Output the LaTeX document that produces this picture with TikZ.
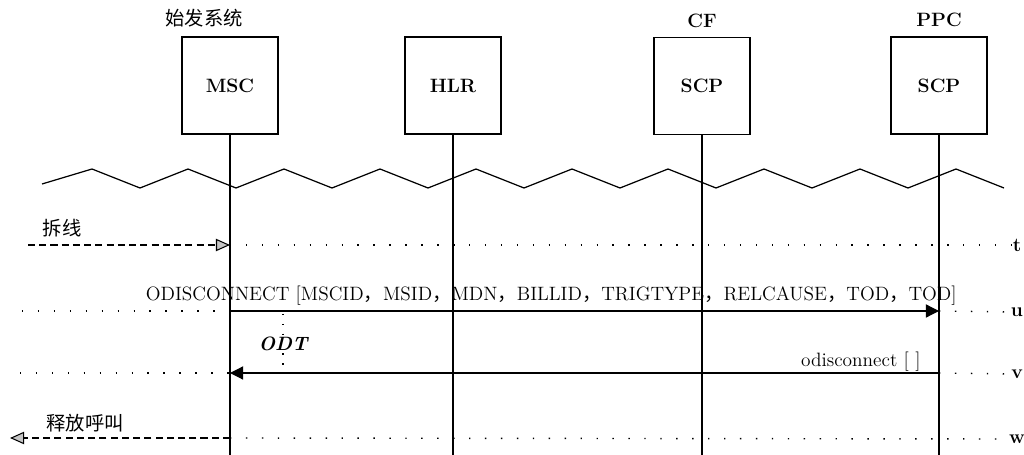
\documentclass[tikz,border=0pt]{standalone}
\usepackage{fontspec}
\newfontfamily\cjk{Noto Sans CJK SC}
\usetikzlibrary{arrows.meta, positioning}

\begin{document}
\begin{tikzpicture}[
        x=0.02cm, y=-0.02cm,
        font=\fontsize{11}{13}\selectfont,
        entity/.style={
            draw,
            line width=0.7pt,
            minimum width=1.92cm,
            minimum height=1.94cm,
            inner sep=0pt,
            font=\bfseries\fontsize{11}{13}\selectfont
        },
        lifeline/.style={line width=0.6pt},
        msgline/.style={-{Triangle[length=7.5pt, width=7.5pt]}, line width=0.7pt},
        userline/.style={-{Triangle[length=8pt, width=7pt, fill=gray!45]},
            dash pattern=on 4pt off 2.4pt, line width=0.6pt},
        timeline/.style={dash pattern=on 0.8pt off 8.27pt, line width=0.8pt},
        guideline/.style={dash pattern=on 0.8pt off 4.8pt, line width=0.8pt},
        msglabel/.style={inner sep=0pt, anchor=base east},
        rowlabel/.style={inner sep=0pt, font=\bfseries\fontsize{11}{13}\selectfont},
        cjklabel/.style={font=\cjk\fontsize{11}{13}\selectfont}
    ]
        \useasboundingbox (0,0) rectangle (1024,455);
        \coordinate (bottom) at (0,455);

        % network entities
        \node[entity] (msc) at (230,85.5) {MSC};
        \node[entity] (hlr) at (453,85.5) {HLR};
        \node[entity] (cf) at (702,86) {SCP};
        \node[entity] (ppc) at (939,85.5) {SCP};
        \node[above=0.06cm of msc, xshift=-0.52cm, cjklabel] (origin) {始发系统};
        \node[above=0.06cm of cf, font=\bfseries\fontsize{11}{13}\selectfont] (cfname) {CF};
        \node[above=0.06cm of ppc, font=\bfseries\fontsize{11}{13}\selectfont] (ppcname) {PPC};

        \foreach \e in {msc, hlr, cf, ppc}
            \draw[lifeline] (\e.south) -- (\e.south |- bottom);

        % break in the time axis
        \draw[line width=0.7pt] (42,184)
            foreach \i in {0,...,19} { -- ({92+48*\i},{mod(\i,2)==0 ? 169 : 188}) };

        % time points
        \node[rowlabel] (t) at (1017,245) {t};
        \node[rowlabel] (u) at (1017,312) {u};
        \node[rowlabel] (v) at (1017,374) {v};
        \node[rowlabel] (w) at (1017,439) {w};
        \coordinate (tin) at (28,245);
        \coordinate (uin) at (22,311);
        \coordinate (vin) at (20,373);
        \coordinate (wout) at (10,438);

        % t: disconnect
        \node[cjklabel] (hangup) at (62,228) {拆线};
        \draw[userline] (tin) -- (msc |- tin);
        \draw[timeline] (msc |- tin) -- (t.west);

        % u: ODISCONNECT
        \draw[timeline] (uin) -- (msc |- uin);
        \draw[msgline] (msc |- uin) -- (ppc |- uin);
        \draw[timeline] (ppc |- uin) -- (u.west);
        \node[msglabel] (odisc) at (957,301)
            {ODISCONNECT [MSCID{\cjk，}MSID{\cjk，}MDN{\cjk，}BILLID{\cjk，}TRIGTYPE{\cjk，}RELCAUSE{\cjk，}TOD{\cjk，}TOD]};

        % ODT timer
        \coordinate (odttop) at (283,314);
        \coordinate (odtbot) at (283,373);
        \draw[guideline] (odttop) -- node[fill=white, inner sep=1pt, font=\bfseries\itshape\fontsize{11}{13}\selectfont] (odt) {ODT} (odtbot);

        % v: odisconnect
        \draw[timeline] (vin) -- (msc |- vin);
        \draw[msgline] (ppc |- vin) -- (msc |- vin);
        \draw[timeline] (ppc |- vin) -- (v.west);
        \node[msglabel] (odiscret) at (921,367) {odisconnect [\,\,]};

        % w: release call
        \node[cjklabel] (release) at (85,423) {释放呼叫};
        \draw[userline] (msc |- wout) -- (wout);
        \draw[timeline] (msc |- wout) -- (w.west);
    \end{tikzpicture}
\end{document}
